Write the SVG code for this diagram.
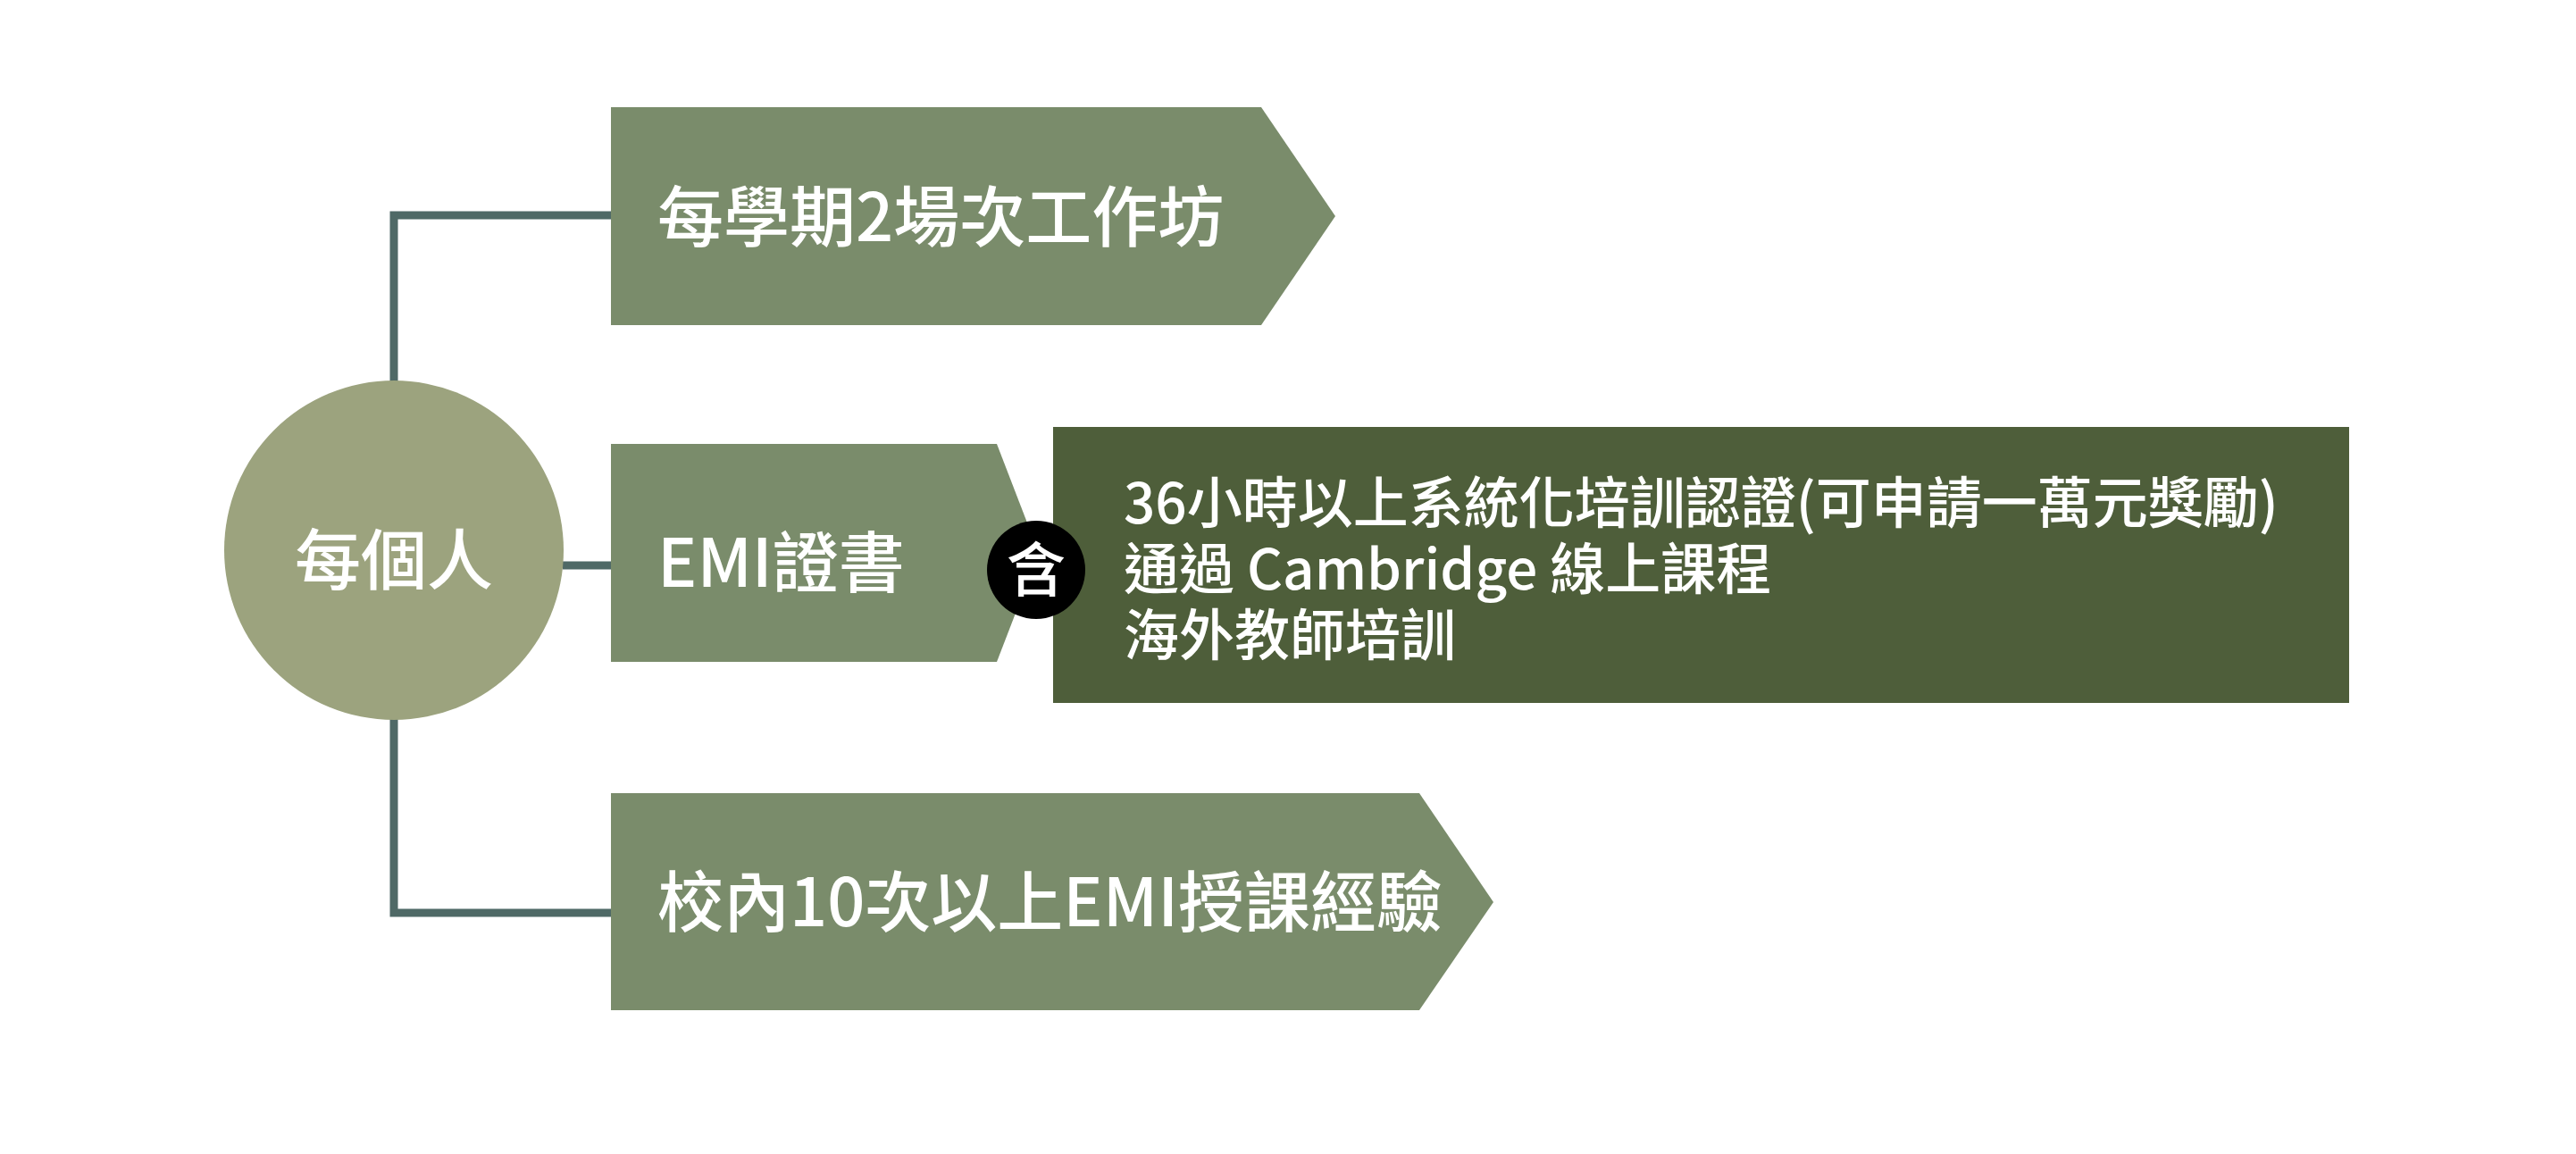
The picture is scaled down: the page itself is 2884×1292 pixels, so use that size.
<svg xmlns="http://www.w3.org/2000/svg" width="2884" height="1292" viewBox="0 0 2884 1292">
<style>
.b{fill:#7a8c6b}
.t{font-family:"Noto Sans CJK TC","Noto Sans",sans-serif;fill:#fff;font-weight:500}
.l{stroke:#4f6966;stroke-width:9;fill:none}
</style>
<rect width="2884" height="1292" fill="#fff"/>
<g id="connectors">
<path class="l" d="M441 430 V241 H684"/>
<path class="l" d="M441 800 V1022 H684"/>
<path class="l" d="M630 633 H684"/>
</g>
<g id="root"><circle cx="441" cy="616" r="190" fill="#9ca37e"/><text class="t" x="441" y="654" font-size="74" text-anchor="middle">每個人</text></g>
<g id="n1"><polygon class="b" points="684,120 1412,120 1495,242 1412,364 684,364"/><text class="t" x="736" y="270" font-size="74">每學期2場次工作坊</text></g>
<g id="n2"><polygon class="b" points="684,497 1116,497 1163,619 1116,741 684,741"/><text class="t" x="736" y="657" font-size="74">EMI證書</text></g>
<g id="n3"><rect x="1179" y="478" width="1451" height="309" fill="#4e5e3a"/>
<text class="t" x="1258" y="586" font-size="62">36小時以上系統化培訓認證(可申請一萬元獎勵)</text>
<text class="t" x="1258" y="660" font-size="62">通過 Cambridge 線上課程</text>
<text class="t" x="1258" y="734" font-size="62">海外教師培訓</text></g>
<g id="badge"><circle cx="1160" cy="638" r="55" fill="#000"/><text class="t" x="1160" y="662" font-size="66" text-anchor="middle">含</text></g>
<g id="n4"><polygon class="b" points="684,888 1589,888 1672,1010 1589,1131 684,1131"/><text class="t" x="736" y="1037" font-size="74">校內10次以上EMI授課經驗</text></g>
</svg>
